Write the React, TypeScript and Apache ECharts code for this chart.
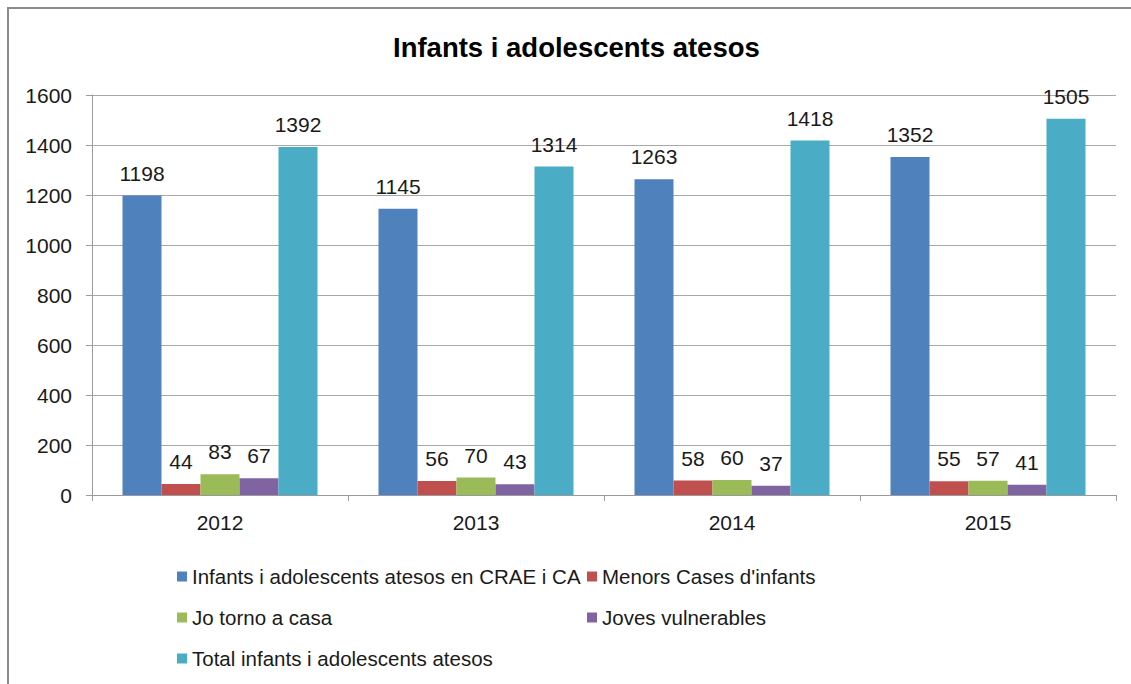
import React, { useEffect, useRef } from "react";
import * as echarts from "echarts";

const categories = ["2012", "2013", "2014", "2015"];
const seriesNames = [
  "Infants i adolescents atesos en CRAE i CA",
  "Menors Cases d'infants",
  "Jo torno a casa",
  "Joves vulnerables",
  "Total infants i adolescents atesos",
];
const crae = [1198, 1145, 1263, 1352];
const menors = [44, 56, 58, 55];
const joTorno = [83, 70, 60, 57];
const joves = [67, 43, 37, 41];
const total = [1392, 1314, 1418, 1505];
const yTicks = { min: 0, max: 1600, interval: 200 };

const colors = ["#4F81BD", "#C0504D", "#9BBB59", "#8064A2", "#4BACC6"];
const legendPos = [
  { left: 172, top: 561 },
  { left: 582, top: 561 },
  { left: 172, top: 602 },
  { left: 582, top: 602 },
  { left: 172, top: 643 },
];

export default function App() {
  const ref = useRef<HTMLDivElement>(null);
  useEffect(() => {
    const chart = echarts.init(ref.current!, null, { renderer: "svg" });
    const values = [crae, menors, joTorno, joves, total];
    const font = "'Liberation Sans', Arial, sans-serif";
    chart.setOption({
      animation: false,
      backgroundColor: "#ffffff",
      title: {
        text: "Infants i adolescents atesos",
        left: 388,
        top: 28,
        textStyle: { fontFamily: font, fontWeight: "bold", fontSize: 27.5, color: "#000" },
      },
      graphic: [
        {
          type: "rect",
          shape: { x: 8, y: 8, width: 1140, height: 700 },
          style: { fill: "none", stroke: "#8c8c8c", lineWidth: 2 },
          silent: true,
        },
      ],
      legend: seriesNames.map((n, i) => ({
        data: [n],
        left: legendPos[i].left,
        top: legendPos[i].top,
        icon: "rect",
        itemWidth: 10,
        itemHeight: 10,
        selectedMode: false,
        textStyle: { fontFamily: font, fontSize: 20.5, color: "#1a1a1a" },
      })),
      grid: { left: 92, right: 15, top: 95, bottom: 189, containLabel: false },
      xAxis: {
        type: "category",
        data: categories,
        axisLine: { lineStyle: { color: "#9a9a9a", width: 1 } },
        axisTick: { show: true, length: 6, lineStyle: { color: "#9a9a9a" } },
        axisLabel: { fontFamily: font, fontSize: 21, color: "#1a1a1a", margin: 17 },
      },
      yAxis: {
        type: "value",
        min: yTicks.min,
        max: yTicks.max,
        interval: yTicks.interval,
        axisLine: { show: true, lineStyle: { color: "#9a9a9a" } },
        axisTick: { show: true, length: 6, lineStyle: { color: "#9a9a9a" } },
        splitLine: { lineStyle: { color: "#a8a8a8" } },
        axisLabel: {
          fontFamily: font,
          fontSize: 21,
          color: "#1a1a1a",
          margin: 20,
          formatter: (v: number) => String(v),
        },
      },
      series: seriesNames.map((n, i) => ({
        name: n,
        type: "bar",
        data: values[i],
        barWidth: 39,
        barGap: "0%",
        itemStyle: { color: colors[i] },
        label: {
          show: true,
          position: "top",
          distance: 12,
          fontFamily: font,
          fontSize: 21,
          color: "#1a1a1a",
        },
      })),
    });
    return () => chart.dispose();
  }, []);
  return (
    <div
      ref={ref}
      style={{ position: "absolute", left: 0, top: 0, width: 1131, height: 684 }}
    />
  );
}
